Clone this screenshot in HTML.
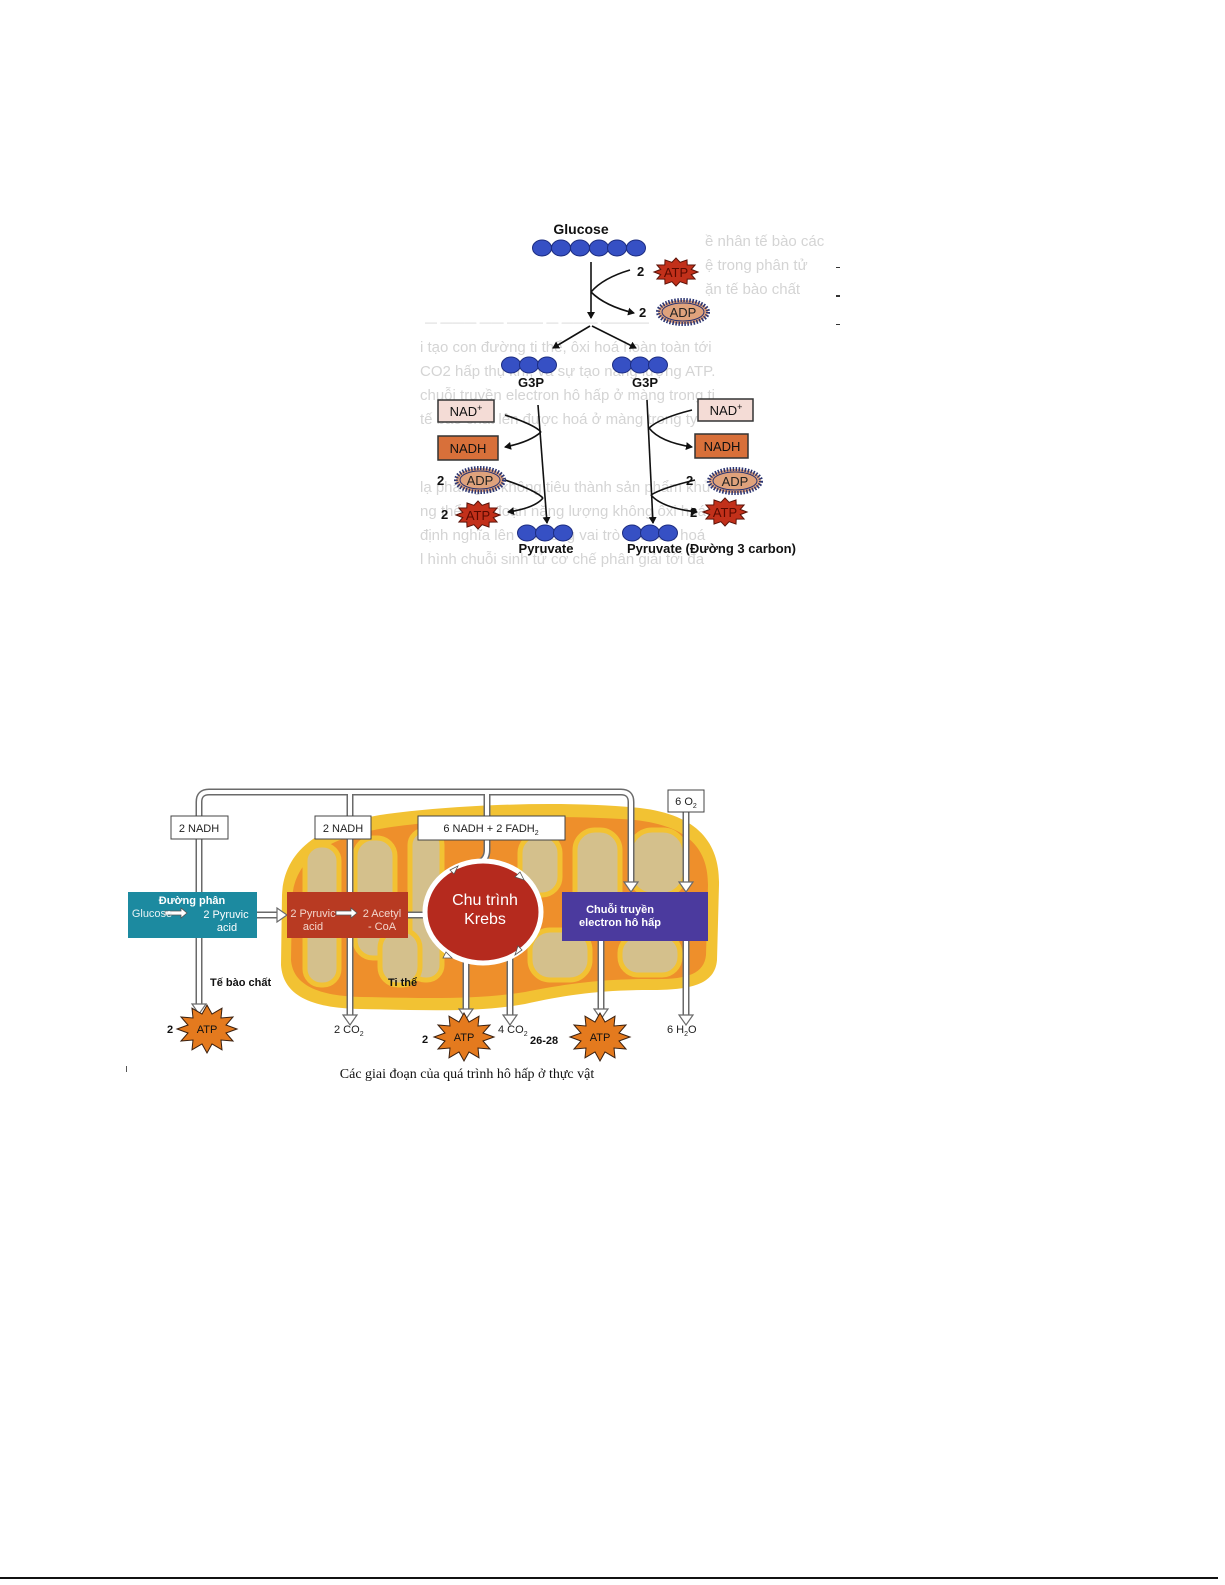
<!DOCTYPE html>
<html><head><meta charset="utf-8"><style>
html,body{margin:0;padding:0;background:#fff;}
svg{display:block;}
text{font-family:"Liberation Sans","DejaVu Sans",sans-serif;}
</style></head><body>
<svg width="1225" height="1585" viewBox="0 0 1225 1585" xmlns="http://www.w3.org/2000/svg">
<defs>
<polygon id="starS" points="22,0 15.3,2.6 19.1,7 11.2,7.1 11,12.1 4.1,9.7 0,14 -4.1,9.7 -11,12.1 -11.2,7.1 -19.1,7 -15.3,2.6 -22,0 -15.3,-2.6 -19.1,-7 -11.2,-7.1 -11,-12.1 -4.1,-9.7 0,-14 4.1,-9.7 11,-12.1 11.2,-7.1 19.1,-7 15.3,-2.6"/>
<polygon id="starL" points="30,0 19,4 26,12 14,11 15,20.8 5,15 0,24 -5,15 -15,20.8 -14,11 -26,12 -19,4 -30,0 -19,-4 -26,-12 -14,-11 -15,-20.8 -5,-15 0,-24 5,-15 15,-20.8 14,-11 26,-12 19,-4"/>
<marker id="ah" markerWidth="8" markerHeight="8" refX="6" refY="4" orient="auto" markerUnits="userSpaceOnUse"><path d="M0,0 L7,4 L0,8 Z" fill="#111"/></marker>
</defs>

<!-- faded background text top -->
<g fill="#d4d4d4" font-size="15">
<text x="705" y="246">ề nhân tế bào các</text>
<text x="705" y="270">ệ trong phân tử</text>
<text x="705" y="294">ặn tế bào chất</text>
<text x="425" y="326" font-size="12">— ——— —— ——— — ——— ————</text>
<text x="420" y="352">i tạo con đường ti thể, ôxi hoá hoàn toàn tới</text>
<text x="420" y="376">CO2 hấp thụ khí, và sự tạo năng lượng ATP.</text>
<text x="420" y="400">chuỗi truyền electron hô hấp ở màng trong ti</text>
<text x="420" y="424">tế bào chất lên được hoá ở màng trong ty</text>
<text x="420" y="492">lạ phân giải không tiêu thành sản phẩm khử</text>
<text x="420" y="516">ng thể giai đoạn năng lượng không ôxi hoá</text>
<text x="420" y="540">định nghĩa lên ôxi đóng vai trò chất ôxi hoá</text>
<text x="420" y="564">l hình chuỗi sinh tử cơ chế phân giải tới đa</text>
</g>
<g fill="#333"><rect x="836" y="267" width="4" height="1"/><rect x="836" y="295" width="4" height="2"/><rect x="836" y="324" width="4" height="1"/></g>

<!-- Top diagram -->
<text x="581" y="234" font-size="14" font-weight="bold" text-anchor="middle" fill="#111">Glucose</text>
<g fill="#3650c4" stroke="#1c2c80" stroke-width="1">
<ellipse cx="542" cy="248" rx="9.5" ry="8"/><ellipse cx="561" cy="248" rx="9.5" ry="8"/><ellipse cx="580" cy="248" rx="9.5" ry="8"/><ellipse cx="599" cy="248" rx="9.5" ry="8"/><ellipse cx="617" cy="248" rx="9.5" ry="8"/><ellipse cx="636" cy="248" rx="9.5" ry="8"/>
<ellipse cx="511" cy="365" rx="9.5" ry="8"/><ellipse cx="529" cy="365" rx="9.5" ry="8"/><ellipse cx="547" cy="365" rx="9.5" ry="8"/>
<ellipse cx="622" cy="365" rx="9.5" ry="8"/><ellipse cx="640" cy="365" rx="9.5" ry="8"/><ellipse cx="658" cy="365" rx="9.5" ry="8"/>
<ellipse cx="527" cy="533" rx="9.5" ry="8"/><ellipse cx="545" cy="533" rx="9.5" ry="8"/><ellipse cx="563" cy="533" rx="9.5" ry="8"/>
<ellipse cx="632" cy="533" rx="9.5" ry="8"/><ellipse cx="650" cy="533" rx="9.5" ry="8"/><ellipse cx="668" cy="533" rx="9.5" ry="8"/>
</g>
<g font-size="13" font-weight="bold" fill="#111">
<text x="531" y="387" text-anchor="middle">G3P</text>
<text x="645" y="387" text-anchor="middle">G3P</text>
<text x="546" y="553" text-anchor="middle">Pyruvate</text>
<text x="627" y="553">Pyruvate (Đường 3 carbon)</text>
</g>
<g stroke="#111" stroke-width="1.6" fill="none" marker-end="url(#ah)">
<path d="M591,262 L591,318"/>
<path d="M591,292 Q605,306 634,313"/>
<path d="M590,326 L553,348"/>
<path d="M592,326 L636,348"/>
<path d="M538,405 L547,523"/>
<path d="M541,432 Q530,442 505,447"/>
<path d="M543,498 Q535,508 508,512"/>
<path d="M647,400 L653,523"/>
<path d="M649,428 Q660,442 692,447"/>
<path d="M651,495 Q662,508 697,512"/>
</g>
<g stroke="#111" stroke-width="1.6" fill="none">
<path d="M630,270 Q603,278 591,292"/>
<path d="M505,415 Q535,425 541,432"/>
<path d="M505,480 Q535,490 543,498"/>
<path d="M692,410 Q660,418 649,428"/>
<path d="M695,480 Q662,488 651,495"/>
</g>
<!-- NAD / NADH -->
<g stroke="#333" stroke-width="1.5">
<rect x="438" y="400" width="56" height="22" fill="#f4dcd6"/>
<rect x="438" y="436" width="60" height="24" fill="#d8703a"/>
<rect x="698" y="399" width="55" height="22" fill="#f4dcd6"/>
<rect x="695" y="434" width="53" height="24" fill="#d8703a"/>
</g>
<g font-size="13" fill="#111" text-anchor="middle">
<text x="466" y="416">NAD<tspan font-size="9" dy="-5">+</tspan></text>
<text x="468" y="453">NADH</text>
<text x="726" y="415">NAD<tspan font-size="9" dy="-5">+</tspan></text>
<text x="722" y="451">NADH</text>
</g>
<!-- ADP spiky ellipses -->
<g fill="#dfa27c" stroke="#2b3470" stroke-width="4" stroke-dasharray="1.5 1.5">
<ellipse cx="683" cy="312" rx="25" ry="12"/>
<ellipse cx="480" cy="480" rx="24" ry="12"/>
<ellipse cx="735" cy="481" rx="26" ry="12"/>
</g>
<g fill="#dfa27c" stroke="#2b3470" stroke-width="1"><ellipse cx="683" cy="312" rx="21" ry="9"/><ellipse cx="480" cy="480" rx="20" ry="9"/><ellipse cx="735" cy="481" rx="22" ry="9"/></g>
<!-- ATP red stars -->
<g fill="#c2301a" stroke="#5a1208" stroke-width="1">
<use href="#starS" transform="translate(676,272)"/>
<use href="#starS" transform="translate(478,515)"/>
<use href="#starS" transform="translate(725,512)"/>
</g>
<g font-size="13" text-anchor="middle">
<text x="676" y="277" fill="#5a0a00">ATP</text>
<text x="478" y="520" fill="#5a0a00">ATP</text>
<text x="725" y="517" fill="#5a0a00">ATP</text>
<text x="683" y="317" fill="#222">ADP</text>
<text x="480" y="485" fill="#222">ADP</text>
<text x="735" y="486" fill="#222">ADP</text>
</g>
<g font-size="13" font-weight="bold" fill="#111">
<text x="637" y="276">2</text><text x="639" y="317">2</text>
<text x="437" y="485">2</text><text x="441" y="519">2</text>
<text x="686" y="485">2</text><text x="690" y="517">2</text>
</g>

<!-- Bottom diagram: mitochondrion -->
<path d="M282,895 C284,850 320,825 380,815 C450,805 560,800 640,808 C700,815 720,845 719,885 L717,960 C715,985 690,990 650,990 C600,990 565,995 525,1004 C475,1013 420,1010 360,1009 C310,1008 283,995 281,965 Z" fill="#f2c233"/>
<path d="M292,900 C294,860 325,838 385,828 C450,818 560,814 635,820 C690,826 708,850 708,885 L706,955 C704,975 685,980 648,979 C600,979 565,984 525,992 C475,1000 420,998 362,997 C318,996 293,985 291,960 Z" fill="#ee8f2b"/>
<g fill="#d4c08c" stroke="#f2c233" stroke-width="5">
<rect x="305" y="845" width="34" height="140" rx="16"/>
<rect x="355" y="838" width="40" height="120" rx="18"/>
<rect x="410" y="830" width="32" height="150" rx="15"/>
<rect x="380" y="930" width="40" height="55" rx="18"/>
<rect x="520" y="835" width="40" height="60" rx="18"/>
<rect x="530" y="930" width="60" height="50" rx="20"/>
<rect x="575" y="830" width="45" height="90" rx="20"/>
<rect x="630" y="830" width="55" height="65" rx="22"/>
<rect x="620" y="935" width="60" height="40" rx="18"/>
</g>

<!-- pipes -->
<g fill="none" stroke-linejoin="round">
<g stroke="#6a6a6a" stroke-width="7">
<path d="M199,1005 L199,802 Q199,792 209,792 L621,792 Q631,792 631,802 L631,884"/>
<path d="M350,792 L350,1016"/><path d="M487,792 L487,850 Q487,860 478,863"/>
<path d="M686,812 L686,884"/><path d="M466,955 L466,1010"/><path d="M510,955 L510,1016"/>
<path d="M601,941 L601,1010"/><path d="M686,941 L686,1016"/>
<path d="M257,915 L278,915"/><path d="M408,915 L428,915"/>
</g>
<g stroke="#fff" stroke-width="4">
<path d="M199,1005 L199,802 Q199,792 209,792 L621,792 Q631,792 631,802 L631,884"/>
<path d="M350,792 L350,1016"/><path d="M487,792 L487,850 Q487,860 478,863"/>
<path d="M686,812 L686,884"/><path d="M466,955 L466,1010"/><path d="M510,955 L510,1016"/>
<path d="M601,941 L601,1010"/><path d="M686,941 L686,1016"/>
<path d="M257,915 L278,915"/><path d="M408,915 L428,915"/>
</g>
</g>
<g fill="#fff" stroke="#6a6a6a" stroke-width="1.2">
<path d="M192,1004 L206,1004 L199,1014 Z"/>
<path d="M343,1015 L357,1015 L350,1025 Z"/>
<path d="M459,1009 L473,1009 L466,1019 Z"/>
<path d="M503,1015 L517,1015 L510,1025 Z"/>
<path d="M594,1009 L608,1009 L601,1019 Z"/>
<path d="M679,1015 L693,1015 L686,1025 Z"/>
<path d="M624,882 L638,882 L631,892 Z"/>
<path d="M679,882 L693,882 L686,892 Z"/>
<path d="M277,908 L277,922 L287,915 Z"/>
</g>

<!-- label boxes -->
<g fill="#fff" stroke="#444" stroke-width="1">
<rect x="171" y="816" width="57" height="23"/>
<rect x="315" y="816" width="56" height="23"/>
<rect x="418" y="816" width="147" height="24"/>
<rect x="668" y="790" width="36" height="22"/>
</g>
<g font-size="11" fill="#222" text-anchor="middle">
<text x="199" y="832">2 NADH</text>
<text x="343" y="832">2 NADH</text>
<text x="491" y="832">6 NADH + 2 FADH<tspan font-size="7" dy="3">2</tspan></text>
<text x="686" y="805">6 O<tspan font-size="7" dy="3">2</tspan></text>
</g>

<!-- process boxes -->
<rect x="128" y="892" width="129" height="46" fill="#1c8aa0"/>
<rect x="287" y="892" width="121" height="46" fill="#b83a22"/>
<rect x="562" y="892" width="146" height="49" fill="#4b3a9e"/>
<ellipse cx="483" cy="912" rx="58" ry="51" fill="#b52a1e" stroke="#fff" stroke-width="5"/>
<g fill="#fff" stroke="#555" stroke-width="0.8">
<path d="M450,870 L458,866 L454,874 Z"/><path d="M520,872 L524,880 L515,877 Z"/>
<path d="M522,950 L515,955 L518,946 Z"/><path d="M446,952 L452,958 L443,958 Z"/>
<path d="M165,911 L181,911 L181,908 L187,913 L181,918 L181,915 L165,915 Z"/>
<path d="M336,911 L351,911 L351,908 L357,913 L351,918 L351,915 L336,915 Z"/>
</g>
<g fill="#fff" text-anchor="middle">
<text x="192" y="904" font-size="11" font-weight="bold">Đường phân</text>
<text x="152" y="917" font-size="11" fill="#e6f2f4">Glucose</text>
<text x="226" y="918" font-size="11">2 Pyruvic</text>
<text x="227" y="931" font-size="11">acid</text>
<text x="313" y="917" font-size="11" fill="#f3d6cc">2 Pyruvic</text>
<text x="313" y="930" font-size="11" fill="#f3d6cc">acid</text>
<text x="382" y="917" font-size="11" fill="#f3d6cc">2 Acetyl</text>
<text x="382" y="930" font-size="11" fill="#f3d6cc">- CoA</text>
<text x="485" y="905" font-size="16">Chu trình</text>
<text x="485" y="924" font-size="16">Krebs</text>
<text x="620" y="913" font-size="11" font-weight="bold">Chuỗi truyền</text>
<text x="620" y="926" font-size="11" font-weight="bold">electron hô hấp</text>
</g>
<g font-size="11" font-weight="bold" fill="#111">
<text x="210" y="986">Tế bào chất</text>
<text x="388" y="986">Ti thể</text>
</g>
<!-- orange ATP stars -->
<g fill="#e47a1e" stroke="#3a2010" stroke-width="1">
<use href="#starL" transform="translate(207,1029)"/>
<use href="#starL" transform="translate(464,1037)"/>
<use href="#starL" transform="translate(600,1037)"/>
</g>
<g font-size="11" text-anchor="middle" fill="#111">
<text x="207" y="1033">ATP</text><text x="464" y="1041">ATP</text><text x="600" y="1041">ATP</text>
</g>
<g font-size="11" fill="#222">
<text x="334" y="1033">2 CO<tspan font-size="7" dy="3">2</tspan></text>
<text x="498" y="1033">4 CO<tspan font-size="7" dy="3">2</tspan></text>
<text x="667" y="1033">6 H<tspan font-size="7" dy="3">2</tspan><tspan dy="-3">O</tspan></text>
</g>
<g font-size="11" font-weight="bold" fill="#111">
<text x="167" y="1033">2</text><text x="422" y="1043">2</text><text x="530" y="1044">26-28</text>
</g>
<text x="467" y="1078" font-size="14" text-anchor="middle" fill="#111" style="font-family:'Liberation Serif',serif">Các giai đoạn của quá trình hô hấp ở thực vật</text>
<rect x="126" y="1066" width="1" height="6" fill="#555"/>

<rect x="0" y="1577" width="1218" height="2" fill="#111"/>
</svg>
</body></html>
